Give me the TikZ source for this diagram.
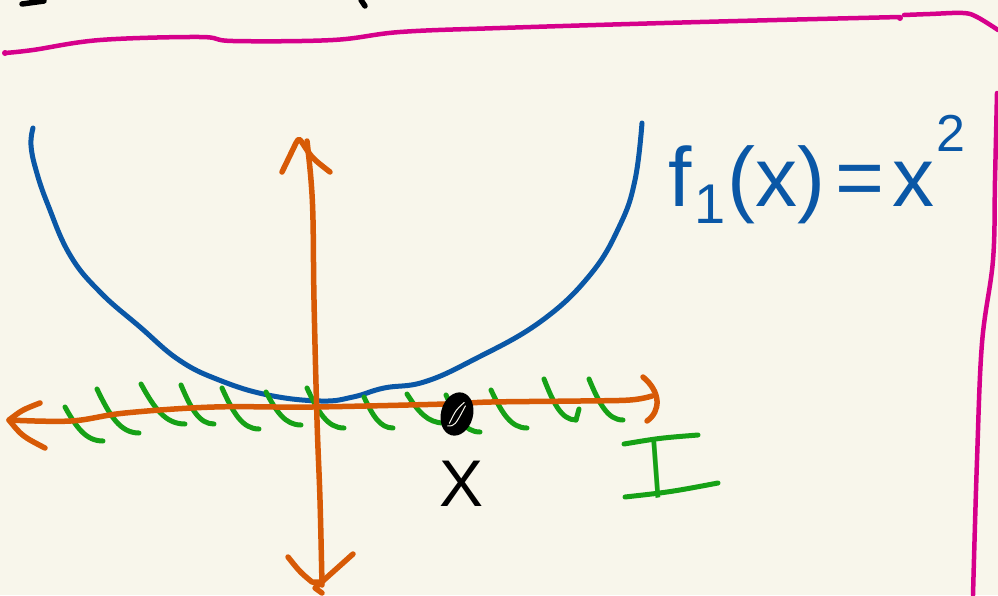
\documentclass[tikz,border=0pt]{standalone}
\usepackage{fontspec}
\setmainfont{Liberation Sans}
\definecolor{bgc}{HTML}{F8F6EB}
\definecolor{magc}{HTML}{D6008B}
\definecolor{bluc}{HTML}{0A57A6}
\definecolor{orgc}{HTML}{D75A06}
\definecolor{grnc}{HTML}{16A116}
\begin{document}
\begin{tikzpicture}[x=1pt,y=-1pt,line cap=round,line join=round,
  magpen/.style={draw=magc,line width=4.5pt},
  blupen/.style={draw=bluc,line width=5pt},
  orgpen/.style={draw=orgc,line width=5.5pt},
  grnpen/.style={draw=grnc,line width=5pt},
  blkpen/.style={draw=black,line width=5.5pt}]
\fill[bgc] (0,0) rectangle (998,595);
\useasboundingbox (0,0) rectangle (998,595);
% cut-off black strokes at the top
\draw[blkpen] (22,4) -- (44,1);
\draw[blkpen] (361,0) -- (365,6);
% magenta frame
\draw[magpen] plot[smooth,tension=0.6] coordinates {(5,53) (33,50) (100,40) (200,37) (233,41) (333,40) (400,32) (500,28) (700,22) (900,17)};
\fill[magc] (5,53) circle (3pt);
\fill[magc] (900,18) circle (3pt);
\draw[magpen] plot[smooth,tension=0.6] coordinates {(904,15) (930,14) (963,13) (977,17) (998,30)};
\draw[magpen] plot[smooth,tension=0.6] coordinates {(997,93) (995,180) (993,260) (982,343) (977,460) (973,595)};
% parabola
\draw[blupen] plot[smooth,tension=0.7] coordinates {(33,128) (31,145) (36,170) (48,205) (70,255) (100,292) (140,327) (179,360) (219,380) (268,395) (321,401) (353,397) (384,388) (424,382) (473,360) (540,322) (590,275) (620,225) (635,180) (642,123)};
% green hatching
\foreach \a/\b/\c/\d in {65/407/103/441, 97/389/139/433, 141/384/185/424, 181/385/214/424, 222/388/259/429, 266/392/301/425, 307/388/344/428, 364/397/393/428, 407/394/444/423, 446/395/480/432, 491/390/527/428, 544/379/576/420, 589/379/623/420}{
  \pgfmathsetmacro\pa{\a+0.3*(\c-\a)}
  \pgfmathsetmacro\pb{\b+0.6*(\d-\b)}
  \pgfmathsetmacro\pc{\c-0.45*(\c-\a)}
  \draw[grnpen] (\a,\b) .. controls (\pa,\pb) and (\pc,\d) .. (\c,\d);
}
\draw[grnpen] (576,420) -- (579,409);
% horizontal axis
\draw[orgpen] plot[smooth,tension=0.6] coordinates {(9,420) (71,421) (125,413) (214,407) (312,407) (446,404) (491,402) (580,401) (630,400) (652,396)};
\draw[orgpen] (40,403) .. controls (22,410) .. (9,420) .. controls (22,436) .. (45,448);
\draw[orgpen] (643,377) .. controls (661,392) and (661,411) .. (647,421);
% vertical axis
\draw[orgpen] plot[smooth,tension=0.6] coordinates {(307,141) (311,180) (313,220) (314,300) (317,420) (320,500) (322,585)};
\draw[orgpen] (282,172) -- (296,143) .. controls (299,138) .. (303,144) .. controls (312,158) .. (330,172);
\draw[orgpen] (288,557) .. controls (300,572) .. (312,582) -- (322,582);
\draw[orgpen] (353,554) -- (315,588) -- (322,593);
% the point x
\fill[black,rotate around={-15:(457,414)}] (457,414) ellipse (16pt and 22pt);
\draw[bgc,line width=1pt,rotate around={-15:(457,414)}] (452,425) .. controls (455,410) .. (461,401);
\draw[bgc,line width=1pt,rotate around={-15:(457,414)}] (451,428) .. controls (458,426) .. (463,404);
% labels
\node[text=bluc,font=\fontsize{84}{86}\selectfont,anchor=base west,inner sep=0pt] (flab) at (668,206)
  {f\hspace{3pt}\raisebox{-17pt}{\fontsize{56}{56}\selectfont 1}\hspace{2pt}(x)\hspace{10pt}=\hspace{8pt}x\hspace{2pt}\raisebox{55pt}{\fontsize{52}{52}\selectfont 2}};
\node[text=black,font=\fontsize{66}{66}\selectfont,anchor=base,inner sep=0pt] (xlab) at (462,506) {X};
\node[text=grnc,font=\fontsize{84}{84}\selectfont,anchor=base,inner sep=0pt,xscale=0.6,rotate=7] (ilab) at (658,498) {I};
\draw[grnpen] (624,444) .. controls (660,438) .. (698,435);
\draw[grnpen] (625,497) .. controls (670,492) .. (718,483);
\end{tikzpicture}
\end{document}
